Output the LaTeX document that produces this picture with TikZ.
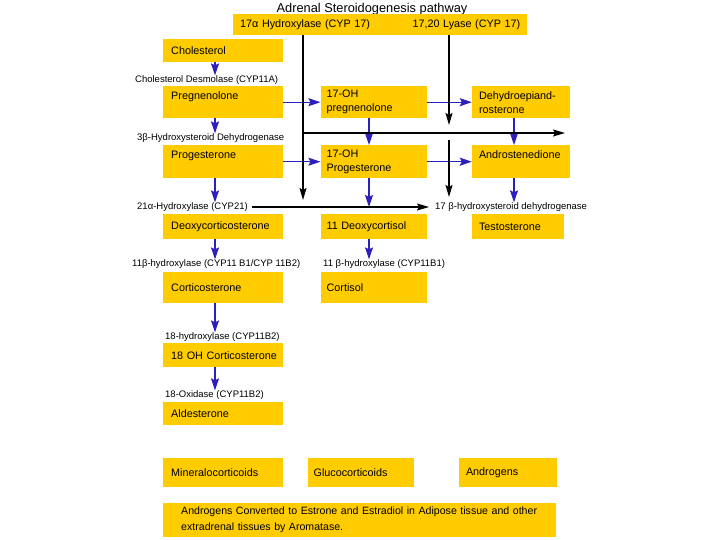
\documentclass[tikz,border=0pt]{standalone}
\usepackage{fontspec}
\setmainfont{Liberation Sans}
\usetikzlibrary{positioning,arrows.meta}
\definecolor{gold}{RGB}{255,204,0}
\definecolor{arrblue}{RGB}{45,30,190}
\newcommand{\boxfont}{\fontsize{10.8}{14}\selectfont}
\newcommand{\enzfont}{\fontsize{9.5}{11}\selectfont}

\begin{document}
\begin{tikzpicture}[x=1pt, y=-1pt,
    box/.style={fill=gold, anchor=north west, align=left, inner ysep=2pt, font=\boxfont},
    colA/.style={box, inner xsep=8pt, text width=104pt},
    colB/.style={box, inner xsep=6pt, text width=94pt},
    colC/.style={box, inner xsep=7pt, text width=84pt},
    enz/.style={anchor=west, inner sep=0pt, font=\enzfont},
    arr/.style={arrblue, line width=1.2pt, -{Stealth[length=12pt, width=8pt, inset=2pt]}},
    blk/.style={black, line width=1.5pt, -{Stealth[length=12pt, width=7pt, inset=2pt]}}
]
    \fill[white] (0,0) rectangle (720,540);
    \useasboundingbox (0,0) rectangle (720,540);

    \node[font=\fontsize{12.8}{15}\selectfont] (title) at (372,9) {Adrenal Steroidogenesis pathway};
    \node[box, inner xsep=7pt, text width=280pt, minimum height=21pt] (bar) at (233,14)
        {17α Hydroxylase (CYP 17)\hfill 17,20 Lyase (CYP 17)};

    \node[colA, minimum height=23pt] (chol) at (163,39) {Cholesterol};
    \node[colA, minimum height=32pt] (preg) at (163,86) {Pregnenolone\\\mbox{}};
    \node[colB, minimum height=32pt, right=37pt of preg]   (ohpreg) {17-OH\\pregnenolone};
    \node[colC, minimum height=32pt, right=45pt of ohpreg] (dhea)   {Dehydroepiand-\\rosterone};

    \node[colA, minimum height=33pt] (prog) at (163,145) {Progesterone\\\mbox{}};
    \node[colB, minimum height=33pt, right=37pt of prog]   (ohprog) {17-OH\\Progesterone};
    \node[colC, minimum height=33pt, right=45pt of ohprog] (andro)  {Androstenedione\\\mbox{}};

    \node[colA, minimum height=25pt] (doc) at (163,214) {Deoxycorticosterone};
    \node[colB, minimum height=25pt, right=37pt of doc]  (dcortisol) {11 Deoxycortisol};
    \node[colC, minimum height=25pt, text width=78pt, right=45pt of dcortisol] (testo) {Testosterone};

    \node[colA, minimum height=31pt] (cort) at (163,272) {Corticosterone};
    \node[colB, minimum height=31pt, right=37pt of cort] (cortisol) {Cortisol};
    \node[colA, minimum height=24pt] (ohcort) at (163,343) {\mbox{18 OH Corticosterone}};
    \node[colA, minimum height=23pt] (aldo) at (163,402) {Aldesterone};

    \node[colA, minimum height=29pt] (mineral) at (163,458) {Mineralocorticoids};
    \node[colB, minimum height=29pt, right=24pt of mineral] (gluco)  {Glucocorticoids};
    \node[colC, minimum height=29pt, right=45pt of gluco]   (andgen) {Androgens};
    \node[box, inner xsep=18pt, text width=357pt, minimum height=34pt,
          font=\fontsize{10.6}{16}\selectfont] (note) at (163,503)
        {Androgens Converted to Estrone and Estradiol in Adipose tissue and other\\extradrenal tissues by Aromatase.};

    \node[enz] (desm)  at (135,80)  {Cholesterol Desmolase (CYP11A)};
    \node[enz] (hsd3)  at (137,138) {3β-Hydroxysteroid Dehydrogenase};
    \node[enz] (cyp21) at (137,207) {21α-Hydroxylase (CYP21)};
    \node[enz] (hsd17) at (435,207) {17 β-hydroxysteroid dehydrogenase};
    \node[enz] (b11a)  at (132,264) {11β-hydroxylase (CYP11 B1/CYP 11B2)};
    \node[enz] (b11b)  at (323,264) {11 β-hydroxylase (CYP11B1)};
    \node[enz] (h18)   at (165,337) {18-hydroxylase (CYP11B2)};
    \node[enz] (ox18)  at (165,395) {18-Oxidase (CYP11B2)};

    \coordinate (c1) at (215,0);
    \coordinate (c2) at (369,0);
    \coordinate (c3) at (514,0);
    \coordinate (k1) at (303,0);
    \coordinate (k2) at (449,0);
    \coordinate (split) at (303,133);
    \coordinate (bend)  at (565,133);
    \coordinate (k2b)   at (449,140);

    \draw[arr] (chol.south -| c1)   -- (desm.north -| c1);
    \draw[arr] (preg.south -| c1)   -- (hsd3.north -| c1);
    \draw[arr] (prog.south -| c1)   -- (cyp21.north -| c1);
    \draw[arr] (doc.south -| c1)    -- (b11a.north -| c1);
    \draw[arr] (cort.south -| c1)   -- (h18.north -| c1);
    \draw[arr] (ohcort.south -| c1) -- (ox18.north -| c1);
    \draw[arr] (ohpreg.south -| c2) -- (ohprog.north -| c2);
    \draw[arr] (ohprog.south -| c2) -- (cyp21 -| c2);
    \draw[arr] (dcortisol.south -| c2) -- (b11b.north -| c2);
    \draw[arr] (dhea.south -| c3)   -- (andro.north -| c3);
    \draw[arr] (andro.south -| c3)  -- (hsd17.north -| c3);

    \draw[arr] (preg)   -- (ohpreg);
    \draw[arr] (ohpreg) -- (dhea);
    \draw[arr] (prog)   -- (ohprog);
    \draw[arr] (ohprog) -- (andro);

    \draw[blk, shorten >=7pt] (bar.south -| k1) -- (cyp21 -| k1);
    \draw[blk] (split) -- (bend);
    \draw[blk, shorten >=8pt] (bar.south -| k2) -- (split -| k2);
    \draw[blk, shorten >=10pt] (k2b) -- (cyp21 -| k2);
    \draw[blk, shorten <=4pt, shorten >=6pt] (cyp21) -- (hsd17);
\end{tikzpicture}
\end{document}
